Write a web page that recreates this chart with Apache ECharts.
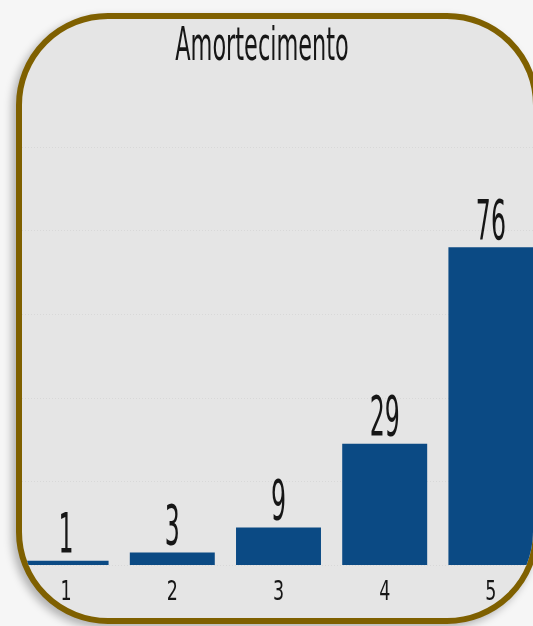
<!DOCTYPE html>
<html>
<head>
<meta charset="utf-8">
<script src="https://cdn.jsdelivr.net/npm/echarts@6/dist/echarts.min.js"></script>
<style>
  html, body { margin: 0; padding: 0; width: 533px; height: 626px; overflow: hidden; background: #f6f6f6; }
  #frame {
    position: absolute; left: 16px; top: 13px; width: 523px; height: 611px;
    box-sizing: border-box; border: 6px solid #7f6000; border-radius: 92px;
    background: #e5e5e5; overflow: hidden;
    box-shadow: -4px 4px 8px rgba(0,0,0,0.28);
  }
  #chart { position: absolute; left: -22px; top: -19px; width: 560px; height: 626px; }
</style>
</head>
<body>
<div id="frame"><div id="chart"></div></div>
<script>
// Ratings 1–5 and how many answers each received
const categories = ['1', '2', '3', '4', '5'];
const counts = [1, 3, 9, 29, 76];
const chartTitle = 'Amortecimento';
const valueMax = 100;
const valueStep = 20;

const condensedFont = '"DejaVu Sans Condensed", "DejaVu Sans", sans-serif';
const barColor = '#0b4a84';
const inkColor = '#161616';

const chart = echarts.init(document.getElementById('chart'), null, { renderer: 'canvas' });

// horizontally squeezed text, used for the title, value labels and category labels
function squeezedText(x, y, text, size, squeeze, valign) {
  return {
    type: 'text',
    x: x,
    y: y,
    scaleX: squeeze,
    style: {
      text: text,
      font: size + 'px ' + condensedFont,
      fill: inkColor,
      align: 'center',
      verticalAlign: valign
    }
  };
}

chart.setOption({
  backgroundColor: 'transparent',
  animation: false,
  graphic: [squeezedText(262, 71, chartTitle, 47, 0.53, 'bottom')],
  grid: { left: 13, top: 147, width: 531, height: 418, containLabel: false },
  xAxis: {
    type: 'category',
    data: categories,
    axisLine: { show: false },
    axisTick: { show: false },
    axisLabel: { show: false }
  },
  yAxis: {
    type: 'value',
    min: 0,
    max: valueMax,
    interval: valueStep,
    axisLabel: { show: false },
    axisLine: { show: false },
    axisTick: { show: false },
    splitLine: { lineStyle: { color: '#d8d8d8', width: 1, type: [1, 2] } }
  },
  series: [
    {
      type: 'bar',
      data: counts,
      barCategoryGap: '20%',
      itemStyle: { color: barColor },
      z: 2
    },
    {
      // value above each bar and the category name under the baseline
      type: 'custom',
      data: counts.map((v, i) => [i, v]),
      z: 3,
      silent: true,
      clip: false,
      renderItem: function (params, api) {
        const idx = api.value(0);
        const top = api.coord([idx, api.value(1)]);
        const base = api.coord([idx, 0]);
        return {
          type: 'group',
          children: [
            squeezedText(top[0], top[1] + 5, String(api.value(1)), 56, 0.47, 'bottom'),
            squeezedText(base[0], base[1] + 14, categories[idx], 27, 0.72, 'top')
          ]
        };
      }
    }
  ]
});
</script>
</body>
</html>
